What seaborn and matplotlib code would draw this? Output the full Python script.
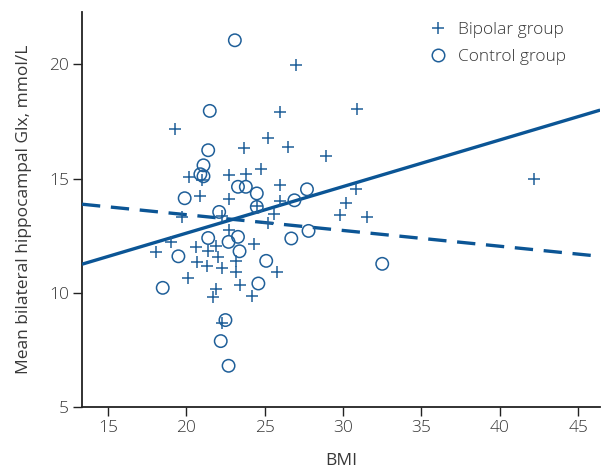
import matplotlib
matplotlib.use("Agg")
import numpy as np
import pandas as pd
import matplotlib.pyplot as plt
import seaborn as sns
from matplotlib.lines import Line2D

# Bipolar group (BMI, Glx)
bipolar_bmi = [19.3, 25.2, 23.7, 20.2, 21.0, 22.7, 23.8, 24.8, 20.9, 22.7,
               24.5, 19.7, 22.3, 25.2, 19.0, 18.1, 22.7, 20.6, 21.4, 21.9,
               24.3, 20.7, 21.3, 22.0, 22.3, 23.2, 23.2, 25.8, 20.1, 23.4,
               21.9, 21.7, 24.2, 22.3, 27.0, 26.0, 30.9, 26.5, 28.9, 26.0,
               30.8, 26.0, 30.2, 25.6, 29.8, 31.5, 42.2]
bipolar_glx = [17.16, 16.79, 16.34, 15.07, 14.95, 15.15, 15.22, 15.40, 14.24, 14.12,
               13.80, 13.32, 13.35, 13.06, 12.23, 11.79, 12.74, 12.01, 11.84, 12.04,
               12.13, 11.33, 11.17, 11.55, 11.07, 11.40, 10.92, 10.90, 10.63, 10.34,
               10.19, 9.80, 9.86, 8.69, 19.96, 17.91, 18.06, 16.36, 15.98, 14.74,
               14.55, 14.02, 13.94, 13.43, 13.40, 13.30, 14.97]

# Control group (BMI, Glx)
control_bmi = [23.1, 21.5, 21.4, 21.1, 20.9, 21.1, 23.3, 23.8, 24.5, 19.9,
               24.5, 22.1, 21.4, 22.7, 23.3, 23.4, 19.5, 25.1, 18.5, 24.6,
               22.5, 22.2, 22.7, 27.7, 26.9, 27.8, 26.7, 32.5]
control_glx = [21.05, 17.96, 16.24, 15.58, 15.19, 15.10, 14.64, 14.64, 14.35, 14.14,
               13.76, 13.54, 12.40, 12.23, 12.45, 11.82, 11.60, 11.40, 10.22, 10.41,
               8.81, 7.89, 6.81, 14.53, 14.05, 12.71, 12.38, 11.27]

# regression lines (intercept, slope)
bipolar_fit = (8.53, 0.204)
control_fit = (14.80, -0.069)

blue = "#0b5595"
marker_blue = "#1f5f99"
text_col = "#383838"
fs = 12.5

sns.set_style("white")
plt.rcParams["font.family"] = ["Open Sans", "DejaVu Sans"]
plt.rcParams["font.weight"] = "light"

bip = pd.DataFrame({"BMI": bipolar_bmi, "Glx": bipolar_glx})
ctl = pd.DataFrame({"BMI": control_bmi, "Glx": control_glx})

fig = plt.figure(figsize=(6.05, 4.68), dpi=100)
ax = fig.add_axes([0.1355, 0.130, 0.8565, 0.845])

xmin, xmax = 13.35, 46.4
xs = np.array([xmin, xmax])
ax.plot(xs, bipolar_fit[0] + bipolar_fit[1] * xs, color=blue, lw=2.4,
        solid_capstyle="butt", zorder=3)
ax.plot(xs, control_fit[0] + control_fit[1] * xs, color=blue, lw=2.4,
        dashes=(5.5, 3.2), zorder=3)

sns.scatterplot(data=bip, x="BMI", y="Glx", marker="+", s=80, color=marker_blue,
                linewidth=1.1, ax=ax, zorder=4)
sns.scatterplot(data=ctl, x="BMI", y="Glx", marker="o", s=80, facecolor="none",
                edgecolor=marker_blue, linewidth=1.1, ax=ax, zorder=4)

ax.set_xlim(xmin, xmax)
ax.set_ylim(5, 22.3)
ax.set_xticks([15, 20, 25, 30, 35, 40, 45])
ax.set_yticks([5, 10, 15, 20])
ax.set_xlabel("BMI", fontsize=fs, color=text_col, labelpad=12)
ax.set_ylabel("Mean bilateral hippocampal Glx, mmol/L", fontsize=fs,
              color=text_col, labelpad=12)
ax.tick_params(axis="both", direction="out", length=6.5, width=1,
               color="#222222", labelsize=fs, labelcolor=text_col,
               pad=3, left=True, bottom=True)
for side in ["top", "right"]:
    ax.spines[side].set_visible(False)
for side in ["left", "bottom"]:
    ax.spines[side].set_color("#222222")
    ax.spines[side].set_linewidth(1.3)

handles = [
    Line2D([], [], marker="+", ls="none", color=marker_blue, markersize=9,
           markeredgewidth=1.1, label="Bipolar group"),
    Line2D([], [], marker="o", ls="none", markerfacecolor="none",
           markeredgecolor=marker_blue, markersize=9, markeredgewidth=1.1,
           label="Control group"),
]
leg = ax.legend(handles=handles, loc="upper right", bbox_to_anchor=(0.955, 1.0),
                frameon=False, fontsize=fs, handletextpad=0.2,
                labelspacing=0.6, borderaxespad=0.2)
for t in leg.get_texts():
    t.set_color(text_col)

fig.savefig("out.png", dpi=100)
